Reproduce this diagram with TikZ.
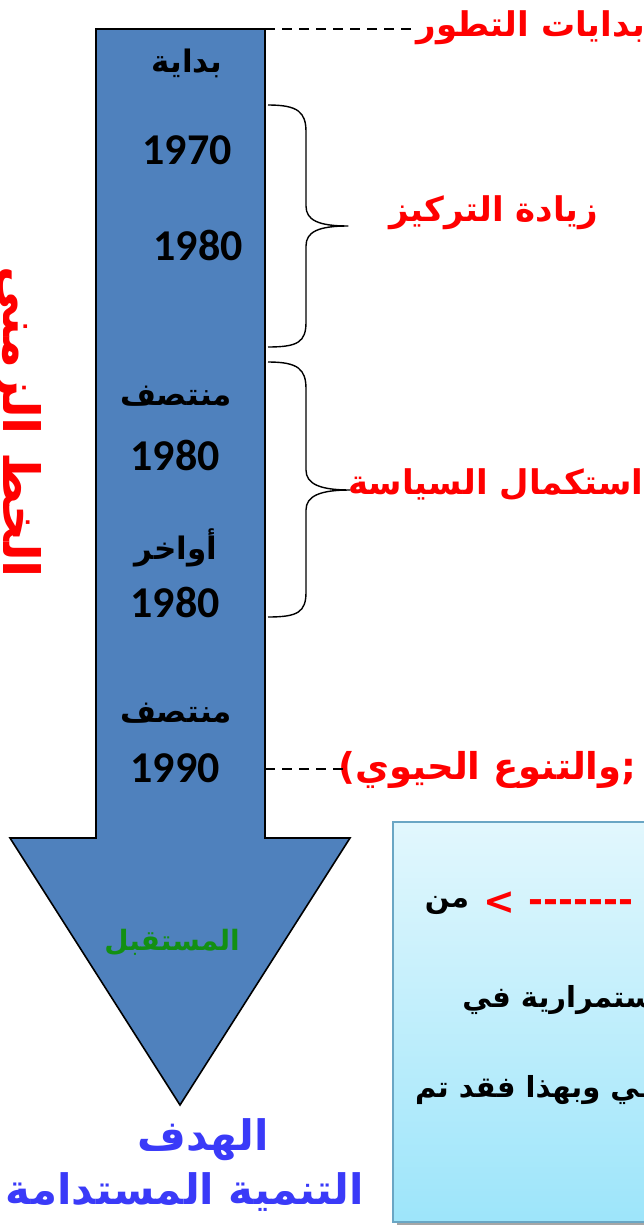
\documentclass[tikz,border=0pt]{standalone}
\usepackage{fontspec}
\newfontfamily\arfont[Script=Arabic]{DejaVu Sans}
\newfontfamily\digfont{Carlito}
\TeXXeTstate=1
\definecolor{shaftblue}{HTML}{4F81BD}
\definecolor{futgreen}{HTML}{139013}
\definecolor{goalblue}{HTML}{3A3AF8}
\definecolor{boxtop}{HTML}{E2F7FD}
\definecolor{boxbot}{HTML}{9DE5FA}
\definecolor{boxedge}{HTML}{6AA6C4}
\tikzset{
  yeartxt/.style={inner sep=0, font=\digfont\bfseries\fontsize{44}{44}\selectfont},
  artxt/.style={inner sep=0, font=\arfont\bfseries\fontsize{31}{33}\selectfont},
  redlab/.style={inner sep=0, text=red, font=\arfont\bfseries\fontsize{34}{36}\selectfont},
  boxtxt/.style={inner sep=0, font=\arfont\bfseries\fontsize{29}{31}\selectfont},
  goaltxt/.style={inner sep=0, text=goalblue, font=\arfont\bfseries\fontsize{42}{44}\selectfont},
  bracestyle/.style={line width=1.4pt, line join=round},
  dashline/.style={line width=1.4pt, dash pattern=on 10pt off 7pt}
}
\begin{document}
\begin{tikzpicture}[x=1pt,y=-1pt]
\useasboundingbox (0,0) rectangle (644,1225);
% info box
\fill[black!35] (397,826) rectangle (660,1226);
\shade[top color=boxtop, bottom color=boxbot] (393,822) rectangle (660,1222);
\draw[boxedge, line width=1.5pt] (660,822) -- (393,822) -- (393,1222) -- (660,1222);
% arrow
\draw[fill=shaftblue, line width=1.6pt, line join=miter]
  (96,29) -- (265,29) -- (265,838) -- (350,838) -- (180,1105) -- (10,838) -- (96,838) -- cycle;
\coordinate (s1) at (265,29);
\coordinate (s2) at (265,769);
% texts in shaft
\node[artxt] (bid) at (187,63) {\beginR بداية\endR};
\node[yeartxt] (y1970) at (187,150) {1970};
\node[yeartxt] (y1980a) at (198,245) {1980};
\node[artxt] (mid1) at (176,396) {\beginR منتصف\endR};
\node[yeartxt] (y1980b) at (175,455) {1980};
\node[artxt] (late) at (176,548) {\beginR أواخر\endR};
\node[yeartxt] (y1980c) at (175,602) {1980};
\node[artxt] (mid2) at (176,713) {\beginR منتصف\endR};
\node[yeartxt] (y1990) at (175,768) {1990};
\node[artxt, text=futgreen, font=\arfont\bfseries\fontsize{28}{30}\selectfont] (fut) at (172,942) {\beginR المستقبل\endR};
% red labels
\node[redlab, anchor=east] (lab1) at (645,28) {\beginR بدايات التطور\endR};
\node[redlab] (lab2) at (494,213) {\beginR زيادة التركيز\endR};
\node[redlab, anchor=west] (lab3) at (348,485) {\beginR استكمال السياسة\endR};
\node[redlab, anchor=west, font=\arfont\bfseries\fontsize{37}{39}\selectfont] (lab4) at (338,770) {\beginR ;والتنوع الحيوي)\endR};
% vertical title
\node[redlab, rotate=-90, font=\arfont\bfseries\fontsize{50}{52}\selectfont] (title) at (16,422) {\beginR الخط الزمني\endR};
% dashed connectors
\draw[dashline] (s1) -- (lab1.west |- s1);
\draw[dashline] (s2) -- (345,769);
% braces
\coordinate (b1tip) at (348,226);
\coordinate (b2tip) at (350,490);
\draw[bracestyle] (268,105) .. controls (298,105) and (306,112) .. (306,132) -- (306,206)
  .. controls (306,220) and (318,226) .. (b1tip)
  .. controls (318,226) and (306,232) .. (306,246) -- (306,322)
  .. controls (306,342) and (298,347) .. (268,347);
\draw[bracestyle] (268,362) .. controls (298,362) and (306,369) .. (306,389) -- (306,470)
  .. controls (306,484) and (320,490) .. (b2tip)
  .. controls (320,490) and (306,496) .. (306,510) -- (306,592)
  .. controls (306,612) and (298,617) .. (268,617);
% goal text
\node[goaltxt] (goal) at (203,1140) {\beginR الهدف\endR};
\node[goaltxt] (goal2) at (185,1192) {\beginR التنمية المستدامة\endR};
% box text
\node[boxtxt] (min) at (447,905) {\beginR من\endR};
\node[boxtxt, text=red, font=\arfont\bfseries\fontsize{38}{40}\selectfont] (gt) at (499,903) {>};
\node[boxtxt, text=red, font=\arfont\bfseries\fontsize{36}{38}\selectfont] (dsh) at (581,906) {-------};
\node[boxtxt, anchor=east] (l2) at (664,1000) {\beginR استمرارية في\endR};
\node[boxtxt, anchor=west] (l3) at (415,1090) {\beginR ـي وبهذا فقد تم\endR};
\end{tikzpicture}
\end{document}
